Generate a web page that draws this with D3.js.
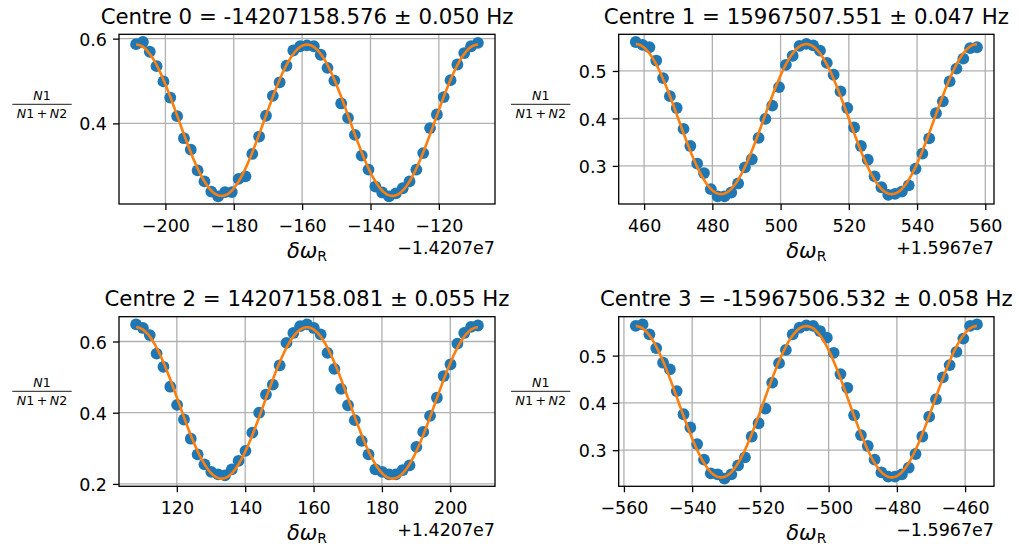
<!DOCTYPE html>
<html><head><meta charset="utf-8">
<script src="https://cdn.jsdelivr.net/npm/d3@7"></script>
<style>body{margin:0;background:#fff}text{font-family:"DejaVu Sans",sans-serif;fill:#000}</style>
</head><body><svg id="c" width="1019" height="546"></svg>
<script>
// ---------- data ----------
const titles = [
  "Centre 0 = -14207158.576 \u00b1 0.050 Hz",
  "Centre 1 = 15967507.551 \u00b1 0.047 Hz",
  "Centre 2 = 14207158.081 \u00b1 0.055 Hz",
  "Centre 3 = -15967506.532 \u00b1 0.058 Hz"
];
// centres in axis units (after offset)
const centres = [-158.576, 507.551, 158.081, -506.532];
const offsetLabels = ["\u22121.4207e7", "+1.5967e7", "+1.4207e7", "\u22121.5967e7"];
const scanOffsets = [-50,-48,-46,-44,-42,-40,-38,-36,-34,-32,-30,-28,-26,-24,-22,-20,-18,-16,-14,-12,-10,-8,-6,-4,-2,0,2,4,6,8,10,12,14,16,18,20,22,24,26,28,30,32,34,36,38,40,42,44,46,48,50];

const ratio0 = [0.587,0.592,0.569,0.535,0.499,0.461,0.417,0.365,0.338,0.289,0.263,0.239,0.228,0.238,0.238,0.269,0.275,0.328,0.369,0.418,0.465,0.497,0.536,0.572,0.582,0.584,0.582,0.562,0.531,0.501,0.447,0.413,0.373,0.324,0.291,0.251,0.237,0.228,0.235,0.247,0.263,0.291,0.330,0.389,0.421,0.462,0.502,0.539,0.566,0.582,0.590];
const ratio1 = [0.561,0.555,0.550,0.522,0.485,0.447,0.422,0.378,0.342,0.305,0.285,0.251,0.236,0.236,0.244,0.263,0.297,0.314,0.359,0.399,0.427,0.466,0.513,0.532,0.553,0.557,0.554,0.543,0.517,0.492,0.457,0.422,0.381,0.342,0.313,0.278,0.255,0.239,0.241,0.246,0.259,0.294,0.326,0.358,0.411,0.436,0.478,0.505,0.526,0.548,0.550];
const ratio2 = [0.648,0.638,0.618,0.566,0.529,0.473,0.422,0.381,0.327,0.283,0.255,0.234,0.227,0.224,0.241,0.265,0.293,0.344,0.400,0.451,0.479,0.533,0.596,0.624,0.643,0.648,0.638,0.620,0.568,0.523,0.467,0.421,0.379,0.321,0.283,0.241,0.234,0.227,0.227,0.239,0.252,0.304,0.346,0.391,0.442,0.503,0.536,0.594,0.624,0.641,0.645];
const ratio3 = [0.563,0.566,0.545,0.516,0.485,0.471,0.425,0.376,0.348,0.313,0.280,0.251,0.249,0.240,0.249,0.268,0.285,0.329,0.357,0.388,0.443,0.484,0.512,0.545,0.559,0.564,0.563,0.552,0.538,0.506,0.461,0.432,0.374,0.332,0.309,0.280,0.253,0.244,0.244,0.249,0.263,0.292,0.329,0.371,0.408,0.454,0.480,0.508,0.536,0.563,0.566];
const ratios = [ratio0, ratio1, ratio2, ratio3];

// fitted cosine model parameters
const fitOffset = [0.4075, 0.3986, 0.4275, 0.4025];
const fitAmp    = [0.1785, 0.1580, 0.2125, 0.1600];
const fitPeriod = [50, 50, 50, 50];

const xTicks = [
  [-200,-180,-160,-140,-120],
  [460,480,500,520,540,560],
  [120,140,160,180,200],
  [-560,-540,-520,-500,-480,-460]
];
const yTicks = [
  [0.4,0.6],
  [0.3,0.4,0.5],
  [0.2,0.4,0.6],
  [0.3,0.4,0.5]
];

// ---------- layout ----------
const boxes = [
  {l:119,   t:34.3,  r:495, b:204},
  {l:618.7, t:34.3,  r:994, b:204},
  {l:119,   t:316.7, r:495, b:486.3},
  {l:618.7, t:316.7, r:994, b:486.3}
];
const ylabBar = [{cx:42,y:104.3},{cx:540.7,y:104.3},{cx:42,y:391.3},{cx:540.7,y:391.3}];
const BLUE="#1f77b4", ORANGE="#ff7f0e", GRID="#b0b0b0";
const TICKFS=17.5, TITLEFS=21.3;

const svg = d3.select("#c");
svg.append("rect").attr("width",1019).attr("height",546).attr("fill","#fff");

boxes.forEach((B,i)=>{
  const c = centres[i];
  const xs = scanOffsets.map(o=>c+o);
  const ys = ratios[i];
  const fit = x => fitOffset[i] + fitAmp[i]*Math.cos(2*Math.PI*(x-c)/fitPeriod[i]);
  const fitX = d3.range(0,401).map(k=>xs[0] + (xs[xs.length-1]-xs[0])*k/400);
  const fitPts = fitX.map(x=>[x,fit(x)]);

  const xmin=d3.min(xs), xmax=d3.max(xs);
  const allY = ys.concat(fitPts.map(p=>p[1]));
  const ymin=d3.min(allY), ymax=d3.max(allY);
  const xp=(xmax-xmin)*0.05, yp=(ymax-ymin)*0.05;
  const x = d3.scaleLinear().domain([xmin-xp,xmax+xp]).range([B.l,B.r]);
  const y = d3.scaleLinear().domain([ymin-yp,ymax+yp]).range([B.b,B.t]);

  const g = svg.append("g");
  const clipId="clip"+i;
  g.append("clipPath").attr("id",clipId).append("rect")
    .attr("x",B.l).attr("y",B.t).attr("width",B.r-B.l).attr("height",B.b-B.t);

  // grid
  g.append("g").selectAll("line").data(xTicks[i]).join("line")
    .attr("x1",d=>x(d)).attr("x2",d=>x(d)).attr("y1",B.t).attr("y2",B.b)
    .attr("stroke",GRID).attr("stroke-width",1.3);
  g.append("g").selectAll("line").data(yTicks[i]).join("line")
    .attr("y1",d=>y(d)).attr("y2",d=>y(d)).attr("x1",B.l).attr("x2",B.r)
    .attr("stroke",GRID).attr("stroke-width",1.3);

  const plot = g.append("g").attr("clip-path",`url(#${clipId})`);
  plot.selectAll("circle").data(xs.map((v,k)=>[v,ys[k]])).join("circle")
    .attr("cx",d=>x(d[0])).attr("cy",d=>y(d[1])).attr("r",5.9).attr("fill",BLUE);
  plot.append("path").datum(fitPts)
    .attr("d",d3.line().x(d=>x(d[0])).y(d=>y(d[1])))
    .attr("fill","none").attr("stroke",ORANGE).attr("stroke-width",2.6);

  // axes
  const fmtX = d3.format("d");
  const ax = g.append("g").attr("transform",`translate(0,${B.b})`)
    .call(d3.axisBottom(x).tickValues(xTicks[i]).tickFormat(fmtX).tickSize(6).tickSizeOuter(0));
  ax.select(".domain").remove();
  ax.selectAll("line").attr("stroke","#000").attr("stroke-width",1.3);
  ax.selectAll("text").attr("y",27.7).attr("dy",null).attr("font-size",TICKFS)
    .attr("font-family","DejaVu Sans").attr("fill","#000");

  const ay = g.append("g").attr("transform",`translate(${B.l},0)`)
    .call(d3.axisLeft(y).tickValues(yTicks[i]).tickFormat(d3.format(".1f")).tickSize(6).tickSizeOuter(0));
  ay.select(".domain").remove();
  ay.selectAll("line").attr("stroke","#000").attr("stroke-width",1.3);
  ay.selectAll("text").attr("x",-12).attr("dy",null).attr("y",6.6).attr("font-size",TICKFS)
    .attr("font-family","DejaVu Sans").attr("fill","#000");

  // spines
  g.append("rect").attr("x",B.l).attr("y",B.t).attr("width",B.r-B.l).attr("height",B.b-B.t)
    .attr("fill","none").attr("stroke","#000").attr("stroke-width",1.3);

  // title
  g.append("text").attr("x",(B.l+B.r)/2).attr("y",B.t-10.4).attr("text-anchor","middle")
    .attr("font-size",TITLEFS).text(titles[i]);

  // offset text
  g.append("text").attr("x",B.r).attr("y",B.b+50).attr("text-anchor","end")
    .attr("font-size",TICKFS).text(offsetLabels[i]);

  // x label  δω_R
  const xl = g.append("text").attr("x",(B.l+B.r)/2).attr("y",B.b+53.5).attr("text-anchor","middle")
    .attr("font-size",21);
  xl.append("tspan").attr("font-style","italic").text("\u03b4\u03c9");
  xl.append("tspan").attr("font-size",14).attr("dy",3).text("R");

  // y label fraction N1/(N1+N2)
  const L = ylabBar[i];
  const fs = 12.6;
  const num = g.append("text").attr("x",L.cx).attr("y",L.y-4.3).attr("text-anchor","middle").attr("font-size",fs);
  num.append("tspan").attr("font-style","italic").text("N");
  num.append("tspan").text("1");
  g.append("line").attr("x1",L.cx-29.7).attr("x2",L.cx+29.7).attr("y1",L.y).attr("y2",L.y)
    .attr("stroke","#000").attr("stroke-width",0.9);
  const den = g.append("text").attr("x",L.cx).attr("y",L.y+14).attr("text-anchor","middle").attr("font-size",fs);
  den.append("tspan").attr("font-style","italic").text("N");
  den.append("tspan").text("1\u2009+\u2009");
  den.append("tspan").attr("font-style","italic").text("N");
  den.append("tspan").text("2");
});
</script>
</body></html>
